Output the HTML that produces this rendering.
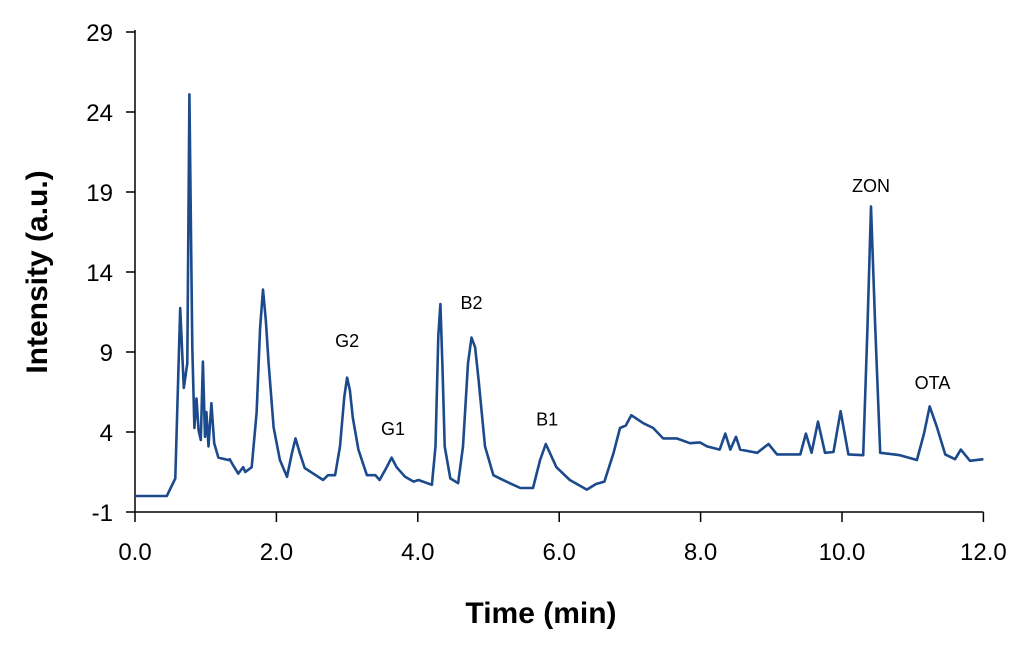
<!DOCTYPE html>
<html><head><meta charset="utf-8"><style>
body{margin:0;background:#fff}
svg{display:block;font-family:"Liberation Sans",Arial,sans-serif}
</style></head><body>
<svg id="chart" width="1024" height="646">
<g id="axes"></g><g id="trace"></g><g id="labels"></g>
<text x="541" y="623" text-anchor="middle" font-size="30" font-weight="bold">Time (min)</text>
<text transform="translate(47,272) rotate(-90)" text-anchor="middle" font-size="30" font-weight="bold">Intensity (a.u.)</text>
</svg>
<script>
const xTicks=[0,2,4,6,8,10,12];
const xTickLabels=["0.0","2.0","4.0","6.0","8.0","10.0","12.0"];
const yTicks=[-1,4,9,14,19,24,29];
const times=[0,0.45,0.57,0.64,0.69,0.74,0.77,0.81,0.84,0.87,0.90,0.93,0.96,0.99,1.01,1.04,1.08,1.12,1.18,1.32,1.34,1.39,1.46,1.53,1.56,1.65,1.72,1.77,1.81,1.85,1.89,1.96,2.05,2.15,2.22,2.27,2.33,2.40,2.52,2.66,2.73,2.83,2.90,2.96,3.00,3.04,3.08,3.16,3.28,3.40,3.46,3.56,3.63,3.70,3.82,3.94,4.01,4.20,4.25,4.29,4.32,4.35,4.38,4.46,4.57,4.64,4.71,4.76,4.81,4.86,4.95,5.07,5.16,5.30,5.45,5.63,5.73,5.81,5.96,6.15,6.39,6.52,6.64,6.77,6.86,6.94,7.02,7.19,7.33,7.47,7.66,7.85,7.99,8.09,8.27,8.35,8.42,8.50,8.56,8.80,8.96,9.08,9.41,9.49,9.57,9.66,9.76,9.88,9.98,10.09,10.30,10.36,10.41,10.47,10.54,10.82,11.06,11.16,11.24,11.34,11.46,11.60,11.68,11.81,12.0];
const intensity=[0,0,1.1,11.75,6.75,8.3,25.1,9.3,4.25,6.1,4.1,3.5,8.4,3.7,5.25,3.1,5.8,3.3,2.4,2.25,2.3,1.9,1.4,1.8,1.5,1.8,5.2,10.5,12.9,11.0,8.3,4.3,2.25,1.2,2.7,3.6,2.7,1.75,1.4,1.0,1.3,1.3,3.1,6.2,7.4,6.6,4.9,2.9,1.3,1.3,1.0,1.8,2.4,1.8,1.2,0.9,1.0,0.7,3.1,10.0,12.0,8.0,3.1,1.1,0.8,3.1,8.3,9.9,9.3,7.25,3.1,1.3,1.1,0.8,0.5,0.5,2.25,3.25,1.8,1.0,0.4,0.75,0.9,2.7,4.25,4.4,5.05,4.55,4.25,3.6,3.6,3.3,3.35,3.1,2.9,3.9,2.9,3.7,2.9,2.7,3.25,2.6,2.6,3.9,2.7,4.65,2.7,2.75,5.3,2.6,2.55,10.6,18.1,10.6,2.7,2.55,2.25,3.9,5.6,4.35,2.6,2.3,2.9,2.2,2.3];
const peakNames=["G2","G1","B2","B1","ZON","OTA"];
const peakLabelT=[3.0,3.65,4.76,5.83,10.41,11.28];
const peakLabelY=[9.3,3.8,11.7,4.4,19.0,6.7];
const NS="http://www.w3.org/2000/svg";
const X=t=>135+t*70.7, Y=v=>512-(v+1)*16;
function mk(tag,attrs,parent){const e=document.createElementNS(NS,tag);for(const k in attrs)e.setAttribute(k,attrs[k]);parent.appendChild(e);return e;}
const ax=document.getElementById('axes');
let l=mk('line',{x1:X(0),y1:Y(-1),x2:X(12),y2:Y(-1),stroke:'#000','stroke-width':1.5},ax);


l=mk('line',{x1:X(0),y1:Y(-1),x2:X(0),y2:Y(29)-2,stroke:'#000','stroke-width':1.5},ax);


xTicks.forEach((t,i)=>{
 const tk=mk('line',{x1:X(t),y1:512,x2:X(t),y2:522,stroke:'#000','stroke-width':1.5},ax);
 
 
 const tx=mk('text',{x:X(t),y:560,'text-anchor':'middle','font-size':24},ax);tx.textContent=xTickLabels[i];
 
 
});
yTicks.forEach(v=>{
 const tk=mk('line',{x1:126,y1:Y(v),x2:X(0),y2:Y(v),stroke:'#000','stroke-width':1.5},ax);
 
 
 const tx=mk('text',{x:113,y:Y(v)+9,'text-anchor':'end','font-size':24},ax);tx.textContent=String(v);
 
 
});
const d=times.map((t,i)=>(i?'L':'M')+X(t).toFixed(1)+','+Y(intensity[i]).toFixed(1)).join(' ');
const p=mk('path',{d:d,fill:'none',stroke:'#1c4a8c','stroke-width':2.6,'stroke-linejoin':'round'},document.getElementById('trace'));


const lg=document.getElementById('labels');
peakNames.forEach((n,i)=>{
 const tx=mk('text',{x:X(peakLabelT[i]),y:Y(peakLabelY[i]),'text-anchor':'middle','font-size':18},lg);tx.textContent=n;
 
 
});
</script>
</body></html>
